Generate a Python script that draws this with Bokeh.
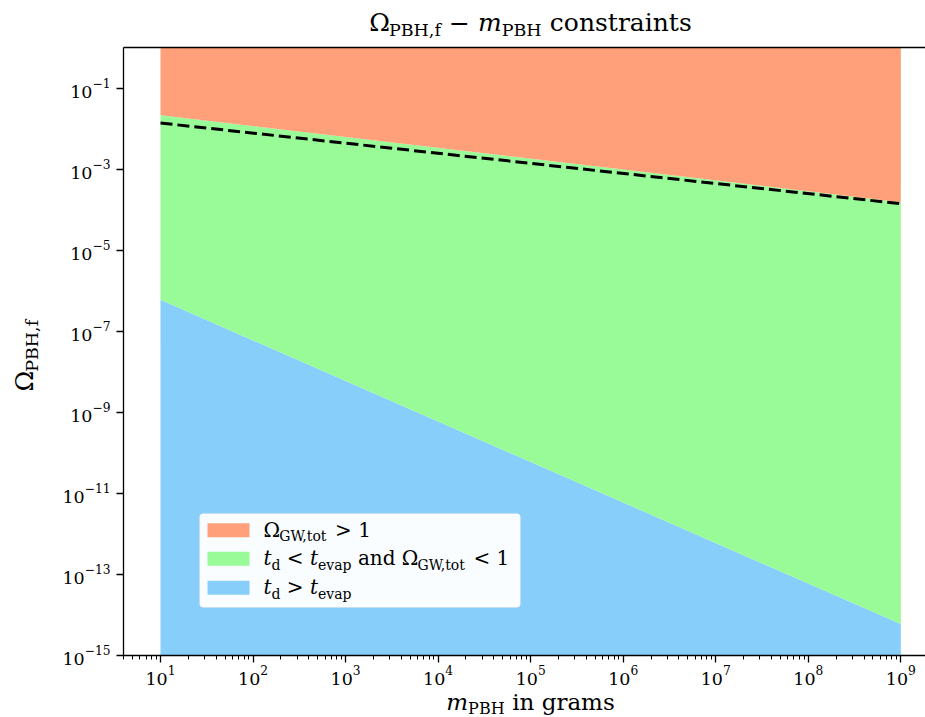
import math
from bokeh.plotting import figure
from bokeh.models import FixedTicker, LogAxis, Label, BoxAnnotation, Range1d
from bokeh.layouts import column, row
from bokeh.embed import file_html
from bokeh.resources import INLINE

# ---------------- data ----------------
m_pbh = [1e1, 1e9]                      # grams
omega_gw_limit = [2.12e-2, 1.53e-4]     # lower edge of Omega_GW,tot > 1 region
omega_dashed = [1.37e-2, 1.40e-4]       # dashed boundary
omega_td_evap = [5.96e-7, 5.96e-15]     # t_d = t_evap boundary
omega_top = [1.0, 1.0]
omega_bottom = [1e-15, 1e-15]

x_major_ticks = [1e1, 1e2, 1e3, 1e4, 1e5, 1e6, 1e7, 1e8, 1e9]
y_major_ticks = [1e-1, 1e-3, 1e-5, 1e-7, 1e-9, 1e-11, 1e-13, 1e-15]

C_ORANGE = "#FFA07A"
C_GREEN = "#98FB98"
C_BLUE = "#87CEFA"
FONT = "DejaVu Serif"

# ---------------- geometry (page pixels) ----------------
W, H = 925, 717
TITLE_H = 40           # title strip: page y 0..40
XLAB_H = 29            # x-label strip: page y 688..717
YLAB_W = 50            # y-label strip: page x 0..50
MAIN_H = H - TITLE_H - XLAB_H
MAIN_W = W - YLAB_W
FRAME_L = 123          # page x of frame left
FRAME_T = 47           # page y of frame top
FRAME_B = 655          # page y of frame bottom
frame_w = W - FRAME_L
decade_px = 92.54
x_start = 10 ** 0.6
x_end = 10 ** (0.6 + frame_w / decade_px)


def text_fig(w, h):
    f = figure(width=w, height=h, x_range=Range1d(0, w), y_range=Range1d(0, h),
               x_axis_location=None, y_axis_location=None, title_location=None,
               output_backend="svg", toolbar_location=None, min_border=0)
    f.outline_line_color = None
    f.grid.visible = False
    f.background_fill_color = "white"
    f.border_fill_color = "white"
    return f


# ---------------- main figure ----------------
p = figure(width=MAIN_W, height=MAIN_H, x_axis_type="log", y_axis_type="log",
           x_range=Range1d(x_start, x_end), y_range=Range1d(1e-15, 1.0),
           output_backend="svg", toolbar_location=None, title_location=None,
           min_border_left=FRAME_L - YLAB_W, min_border_right=0,
           min_border_top=FRAME_T - TITLE_H, min_border_bottom=(H - XLAB_H) - FRAME_B)
p.outline_line_color = None
p.grid.visible = False
p.background_fill_color = "white"
p.border_fill_color = "white"

p.varea(x=m_pbh, y1=omega_bottom, y2=omega_td_evap, fill_color=C_BLUE)
p.varea(x=m_pbh, y1=omega_td_evap, y2=omega_gw_limit, fill_color=C_GREEN)
p.varea(x=m_pbh, y1=omega_gw_limit, y2=omega_top, fill_color=C_ORANGE)
p.line(x=m_pbh, y=omega_dashed, line_color="black", line_width=3, line_dash="12 5")

x_minor = []
for d in range(0, 10):
    for k in range(2, 10):
        v = k * 10 ** d
        if x_start <= v <= x_end:
            x_minor.append(v)

xa = p.xaxis[0]
xa.ticker = FixedTicker(ticks=x_major_ticks, minor_ticks=x_minor)
ya = p.yaxis[0]
ya.ticker = FixedTicker(ticks=y_major_ticks, minor_ticks=[])
for ax in (xa, ya):
    ax.axis_line_color = "black"
    ax.axis_line_width = 1.3
    ax.major_tick_line_color = "black"
    ax.major_tick_line_width = 1.3
    ax.minor_tick_line_color = "black"
    ax.minor_tick_line_width = 1.0
    ax.major_tick_in = 0
    ax.major_tick_out = 7
    ax.minor_tick_in = 0
    ax.minor_tick_out = 4
    ax.major_label_text_font = FONT
    ax.major_label_text_font_size = "17.5px"
    ax.major_label_text_color = "black"
xa.major_label_standoff = 3
ya.major_label_standoff = 6

top = LogAxis(ticker=FixedTicker(ticks=[], minor_ticks=[]), major_label_text_font_size="0px",
              major_tick_out=0, minor_tick_out=0, major_label_standoff=0,
              axis_line_color="black", axis_line_width=1.3)
p.add_layout(top, "above")

# ---------------- rich text helper ----------------
EM = {" ": 0.318, ",": 0.318, ">": 0.838, "<": 0.838, "\u2212": 0.838, "1": 0.636,
      "\u03a9": 0.785, "P": 0.690, "B": 0.735, "H": 0.872, "G": 0.775, "W": 1.038,
      "a": 0.596, "c": 0.560, "d": 0.640, "e": 0.592, "f": 0.370, "g": 0.640, "i": 0.320,
      "m": 0.948, "n": 0.644, "o": 0.602, "p": 0.640, "r": 0.478, "s": 0.513, "t": 0.402,
      "v": 0.566}
BASE_FIX = 0.32   # observed downward drift of the alphabetic anchor, in em


def tw(s, size):
    return sum(EM.get(ch, 0.6) for ch in s) * size


def rich(fig, pieces, x0, y0, angle=0.0, anchor="left"):
    total = sum(tw(t, s) for t, s, _, _ in pieces)
    off = -total / 2 if anchor == "center" else 0.0
    dx, dy_ = math.cos(angle), math.sin(angle)
    ux, uy = -math.sin(angle), math.cos(angle)
    adv = off
    for txt, size, style, shift in pieces:
        lead = len(txt) - len(txt.lstrip(" "))
        a = adv + tw(txt[:lead], size)
        core = txt.strip(" ")
        up = shift + BASE_FIX * size
        if core:
            fig.add_layout(Label(x=x0 + a * dx + up * ux, y=y0 + a * dy_ + up * uy,
                                 x_units="screen", y_units="screen", text=core,
                                 text_font=FONT, text_font_size=f"{size}px",
                                 text_font_style=style, text_baseline="alphabetic",
                                 text_align="left", angle=angle, text_color="black"))
        adv += tw(txt, size)


CENTER_X = 530

# title strip
tf = text_fig(W, TITLE_H)
rich(tf, [("\u03a9", 25, "normal", 0), ("PBH,f", 17.5, "normal", -5), (" \u2212 ", 25, "normal", 0),
          ("m", 25, "italic", 0), ("PBH", 17.5, "normal", -5), (" constraints", 25, "normal", 0)],
     CENTER_X, TITLE_H - 30, anchor="center")

# x label strip
xf = text_fig(W, XLAB_H)
rich(xf, [("m", 23, "italic", 0), ("PBH", 16, "normal", -4), (" in grams", 23, "normal", 0)],
     CENTER_X, H - 709, anchor="center")

# y label strip
yf = text_fig(YLAB_W, MAIN_H)
rich(yf, [("\u03a9", 25, "normal", 0), ("PBH,f", 17.5, "normal", -5)],
     32, (H - XLAB_H) - 351 - 37, angle=math.pi / 2, anchor="center")

# ---------------- legend (inside main frame) ----------------
def sx(px):
    return px - FRAME_L


def sy(py):
    return FRAME_B - py


p.add_layout(BoxAnnotation(left=sx(199), right=sx(520), top=sy(513), bottom=sy(607),
                           left_units="screen", right_units="screen", top_units="screen",
                           bottom_units="screen", fill_color="white", fill_alpha=0.95,
                           line_color="#cccccc", line_width=1.2, border_radius=4))
rows = [
    (C_ORANGE, 529.7, [("\u03a9", 20, "normal", 0), ("GW,tot", 14, "normal", -4.5), (" > 1", 20, "normal", 0)]),
    (C_GREEN, 558.3, [("t", 20, "italic", 0), ("d", 14, "normal", -4.5), (" < ", 20, "normal", 0),
                      ("t", 20, "italic", 0), ("evap", 14, "normal", -4.5), (" and ", 20, "normal", 0),
                      ("\u03a9", 20, "normal", 0), ("GW,tot", 14, "normal", -4.5), (" < 1", 20, "normal", 0)]),
    (C_BLUE, 587.3, [("t", 20, "italic", 0), ("d", 14, "normal", -4.5), (" > ", 20, "normal", 0),
                     ("t", 20, "italic", 0), ("evap", 14, "normal", -4.5)]),
]
for col, cy, pieces in rows:
    p.add_layout(BoxAnnotation(left=sx(207), right=sx(249), top=sy(cy - 7), bottom=sy(cy + 7),
                               left_units="screen", right_units="screen", top_units="screen",
                               bottom_units="screen", fill_color=col, fill_alpha=1.0,
                               line_color=None))
    rich(p, pieces, sx(263), sy(cy + 6))

layout = column(tf, row(yf, p, spacing=0), xf, spacing=0)
open("out.html", "w").write(file_html(layout, INLINE))
